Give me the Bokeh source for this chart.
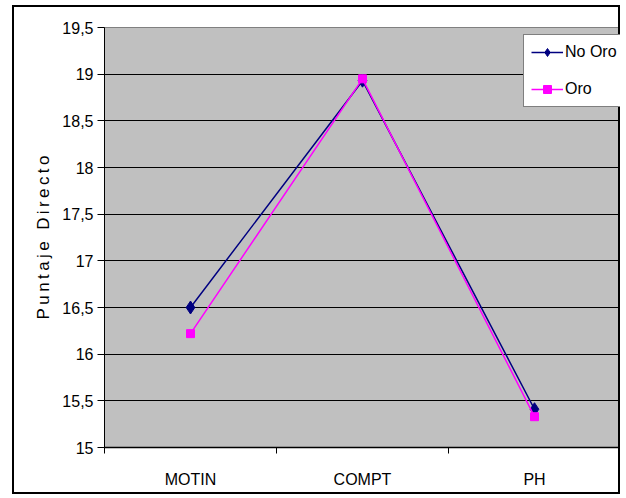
from bokeh.plotting import figure
from bokeh.models import Range1d, LinearAxis, FixedTicker, ColumnDataSource, Grid
from bokeh.embed import file_html
from bokeh.resources import INLINE

categories = ["MOTIN", "COMPT", "PH"]
no_oro = [16.5, 18.93, 15.41]
oro = [16.22, 18.95, 15.33]
y_ticks = [15, 15.5, 16, 16.5, 17, 17.5, 18, 18.5, 19, 19.5]
y_tick_labels = ["15", "15,5", "16", "16,5", "17", "17,5", "18", "18,5", "19", "19,5"]
series_names = ["No Oro", "Oro"]
y_label = "Puntaje Directo"

FONT = "Liberation Sans"

n = len(categories)
xpos = [i + 0.5 for i in range(n)]

p = figure(width=608, height=489, output_backend="svg", toolbar_location=None,
           x_range=Range1d(0, n), y_range=Range1d(15, 19.5),
           x_axis_location=None, y_axis_location=None,
           min_border_left=90, min_border_top=20, min_border_right=2, min_border_bottom=49,
           styles={"border": "2px solid black", "margin": "5px 0px 0px 12px"})
p.background_fill_color = "#C0C0C0"
p.border_fill_color = "white"
p.outline_line_color = "#808080"
p.outline_line_width = 1

# y axis
yax = LinearAxis(ticker=FixedTicker(ticks=y_ticks))
yax.major_label_overrides = {t: l for t, l in zip(y_ticks, y_tick_labels)}
yax.axis_label = "\u2009 \u2009".join("\u2009".join(list(w)) for w in y_label.split(" "))
yax.axis_label_text_font = FONT
yax.axis_label_text_font_style = "normal"
yax.axis_label_text_font_size = "17px"
yax.axis_label_text_color = "black"
yax.axis_label_standoff = 6
yax.major_label_text_font = FONT
yax.major_label_text_font_size = "16px"
yax.major_label_text_color = "black"
yax.major_tick_out = 7
yax.major_tick_in = 0
yax.minor_tick_out = 0
yax.minor_tick_in = 0
yax.axis_line_color = "black"
yax.major_tick_line_color = "black"
yax.major_label_standoff = 4
p.add_layout(yax, "left")

# x axis: labels at category centres, tick marks at category boundaries
xcat = LinearAxis(ticker=FixedTicker(ticks=xpos, minor_ticks=list(range(n + 1))))
xcat.major_label_overrides = {x: c for x, c in zip(xpos, categories)}
xcat.axis_line_color = "black"
xcat.axis_line_width = 1.5
xcat.major_tick_line_color = None
xcat.minor_tick_line_color = "black"
xcat.minor_tick_out = 6
xcat.minor_tick_in = 0
xcat.major_label_text_font = FONT
xcat.major_label_text_font_size = "16px"
xcat.major_label_text_color = "black"
xcat.major_label_standoff = 17
p.add_layout(xcat, "below")

p.xgrid.visible = False
p.ygrid.visible = False
p.add_layout(Grid(dimension=1, ticker=yax.ticker, grid_line_color="black", grid_line_width=1))

src = ColumnDataSource(dict(x=xpos, cat=categories, no_oro=no_oro, oro=oro))

p.line("x", "no_oro", source=src, line_color="#000080", line_width=1.5, legend_label=series_names[0])
p.scatter("x", "no_oro", source=src, marker="diamond", size=13, fill_color="#000080",
          line_color="#000080", legend_label=series_names[0])
p.line("x", "oro", source=src, line_color="#FF00FF", line_width=1.5, legend_label=series_names[1])
p.scatter("x", "oro", source=src, marker="square", size=8, fill_color="#FF00FF",
          line_color="#FF00FF", legend_label=series_names[1])

leg = p.legend[0]
leg.location = (419, 340)
leg.border_line_color = "black"
leg.border_line_width = 1
leg.background_fill_color = "white"
leg.background_fill_alpha = 1
leg.label_text_font = FONT
leg.label_text_font_size = "16px"
leg.label_text_color = "black"
leg.glyph_width = 32
leg.label_standoff = 2
leg.spacing = 17
leg.padding = 7
leg.margin = 0

open("out.html", "w").write(file_html(p, INLINE))
